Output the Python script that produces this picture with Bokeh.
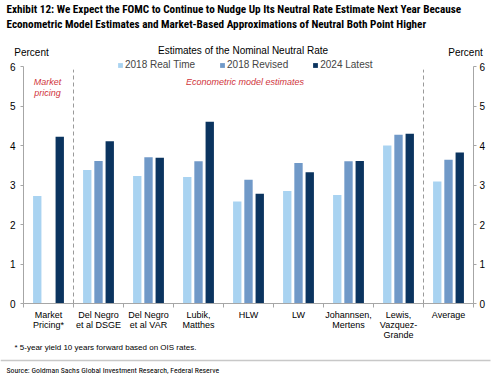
import numpy as np
from bokeh.plotting import figure
from bokeh.layouts import column
from bokeh.models import (Range1d, LinearAxis, FixedTicker, Label, Legend, LegendItem)
from bokeh.embed import file_html
from bokeh.resources import INLINE

categories = ["Market\nPricing*", "Del Negro\net al DSGE", "Del Negro\net al VAR", "Lubik,\nMatthes",
              "HLW", "LW", "Johannsen,\nMertens", "Lewis,\nVazquez-\nGrande", "Average"]
real_time_2018 = [2.72, 3.38, 3.23, 3.20, 2.58, 2.85, 2.75, 4.00, 3.09]
revised_2018 = [float("nan"), 3.61, 3.70, 3.60, 3.13, 3.56, 3.60, 4.27, 3.64]
latest_2024 = [4.22, 4.11, 3.69, 4.60, 2.78, 3.32, 3.61, 4.30, 3.82]
series_names = ["2018 Real Time", "2018 Revised", "2024 Latest"]
colors = ["#A9D3F1", "#7099C8", "#0B345F"]
y_ticks = [0, 1, 2, 3, 4, 5, 6]
y_max = 6

FONT = "Liberation Sans, Arial, sans-serif"
NARROW = "Roboto Condensed, sans-serif"
RED = "#D0343C"
GRAY = "#A6A6A6"
W = 500


def bare(height, xr, yr):
    f = figure(width=W, height=height, output_backend="svg", toolbar_location=None,
               x_range=xr, y_range=yr, min_border=0, x_axis_location=None, y_axis_location=None,
               frame_align=False)
    f.outline_line_color = None
    f.xgrid.visible = False
    f.ygrid.visible = False
    return f


def lab(f, x, y, text, size, font=FONT, color="#000000", style="normal", align="left", baseline="middle"):
    f.add_layout(Label(x=x, y=y, text=text, text_font=font, text_font_size=size, text_color=color,
                       text_font_style=style, text_align=align, text_baseline=baseline))


# ---------- header strip (pixel coordinates) ----------
TOP_H = 58
top = bare(TOP_H, Range1d(0, W), Range1d(TOP_H, 0))
lab(top, 6, 2, "Exhibit 12: We Expect the FOMC to Continue to Nudge Up Its Neutral Rate Estimate Next Year Because",
    "11.2px", font=NARROW, style="bold", baseline="top")
lab(top, 6, 17, "Econometric Model Estimates and Market-Based Approximations of Neutral Both Point Higher",
    "11.2px", font=NARROW, style="bold", baseline="top")
lab(top, 31, 52, "Percent", "10px", align="center")
lab(top, 465, 52, "Percent", "10px", align="center")
lab(top, 242.5, 50, "Estimates of the Nominal Neutral Rate", "10px", align="center")

# ---------- main chart ----------
n = len(categories)
FRAME_BOTTOM = 303
BORDER_BOTTOM = 40
MAIN_H = FRAME_BOTTOM - TOP_H + BORDER_BOTTOM
px_per_unit = (303 - 66) / y_max
y_top = y_max + (66 - TOP_H) / px_per_unit
p = figure(width=W, height=MAIN_H, output_backend="svg", toolbar_location=None,
           x_range=Range1d(0, n), y_range=Range1d(0, y_top),
           min_border_left=23, min_border_right=27, min_border_top=0, min_border_bottom=BORDER_BOTTOM,
           y_axis_location=None, x_axis_location=None, frame_align=False)
p.outline_line_color = None
p.xgrid.visible = False
p.ygrid.visible = False

centers = np.arange(n) + 0.5
offsets = [-0.225, 0.0, 0.225]
renderers = []
for vals, off, col in zip([real_time_2018, revised_2018, latest_2024], offsets, colors):
    r = p.vbar(x=centers + off, top=vals, width=0.167, bottom=0, fill_color=col, line_color=None)
    renderers.append(r)


def yaxis(standoff):
    ax = LinearAxis(ticker=FixedTicker(ticks=y_ticks), bounds=(0, y_max))
    ax.axis_line_color = GRAY
    ax.major_tick_line_color = GRAY
    ax.major_tick_out = 3
    ax.major_tick_in = 0
    ax.minor_tick_line_color = None
    ax.major_label_standoff = standoff
    ax.major_label_text_font = FONT
    ax.major_label_text_font_size = "10px"
    ax.major_label_text_color = "#000000"
    return ax


p.add_layout(yaxis(5), "left")
p.add_layout(yaxis(3), "right")

xax = LinearAxis(ticker=FixedTicker(ticks=list(centers), minor_ticks=list(range(n + 1))))
xax.major_label_overrides = {float(c): t for c, t in zip(centers, categories)}
xax.axis_line_color = GRAY
xax.major_tick_out = 0
xax.major_tick_in = 0
xax.major_tick_line_color = None
xax.minor_tick_line_color = GRAY
xax.minor_tick_out = 4
xax.minor_tick_in = 0
xax.major_label_standoff = 2
xax.major_label_text_font = FONT
xax.major_label_text_font_size = "9px"
xax.major_label_text_color = "#000000"
xax.major_label_text_line_height = 1.0
p.add_layout(xax, "below")

# dashed separators between market pricing / models / average
for xb in [1, n - 1]:
    p.segment(x0=xb, x1=xb, y0=0, y1=y_max - 0.08, line_color="#9A9A9A", line_dash="4 3", line_width=1)

legend = Legend(items=[LegendItem(label=nm, renderers=[r]) for nm, r in zip(series_names, renderers)],
                orientation="horizontal", location=(94, 233), padding=0, margin=0, spacing=24,
                glyph_width=6, glyph_height=6, label_standoff=2, label_height=10,
                label_text_font=FONT, label_text_font_size="10px", border_line_color=None,
                background_fill_alpha=0)
p.add_layout(legend, "center")

lab(p, 0.48, 5.60, "Market", "9px", color=RED, style="italic", align="center")
lab(p, 0.48, 5.34, "pricing", "9px", color=RED, style="italic", align="center")
lab(p, 4.43, 5.62, "Econometric model estimates", "9px", color=RED, style="italic", align="center")

# ---------- footer strip (pixel coordinates) ----------
BOT_H = 379 - TOP_H - MAIN_H
bot = bare(BOT_H, Range1d(0, W), Range1d(BOT_H, 0))
lab(bot, 14, 4, "* 5-year yield 10 years forward based on OIS rates.", "8px")
bot.segment(x0=0, x1=490, y0=17, y1=17, line_color="#C8C8C8", line_width=1.5)
lab(bot, 6, 27, "Source: Goldman Sachs Global Investment Research, Federal Reserve", "7.8px", font=NARROW)

layout = column(top, p, bot, spacing=0)
open("out.html", "w").write(file_html(layout, INLINE))
